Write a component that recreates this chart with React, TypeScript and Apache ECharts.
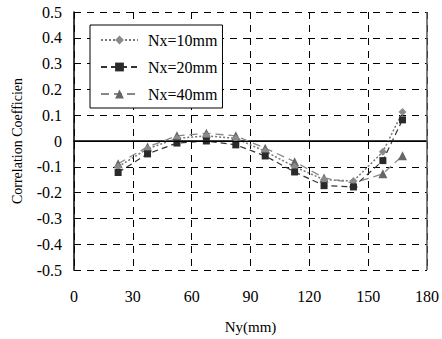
import React, { useEffect, useRef } from "react";
import * as echarts from "echarts";

const xValues = [22.5, 37.5, 52.5, 67.5, 82.5, 97.5, 112.5, 127.5, 142.5, 157.5, 167.5];
const nx10 = [-0.1, -0.03, 0.01, 0.02, 0.01, -0.04, -0.1, -0.15, -0.155, -0.042, 0.112];
const nx20 = [-0.122, -0.05, -0.008, 0.0, -0.015, -0.058, -0.12, -0.173, -0.178, -0.076, 0.082];
const nx40 = [-0.088, -0.023, 0.02, 0.03, 0.02, -0.028, -0.08, -0.143, -0.163, -0.127, -0.057];
const seriesNames = ["Nx=10mm", "Nx=20mm", "Nx=40mm"];

const FONT = "Liberation Serif";

export default function App() {
  const ref = useRef<HTMLDivElement>(null);
  useEffect(() => {
    if (!ref.current) return;
    const chart = echarts.init(ref.current, null, { renderer: "svg" });
    const pair = (ys: number[]) => xValues.map((x, i) => [x, ys[i]]);
    chart.setOption({
      animation: false,
      backgroundColor: "#fff",
      textStyle: { fontFamily: FONT },
      grid: { left: 74, right: 13, top: 12, bottom: 67 },
      legend: {
        orient: "vertical",
        left: 90,
        top: 25,
        padding: [7, 5, 6, 10],
        itemGap: 11,
        itemWidth: 37,
        itemHeight: 11,
        borderColor: "#000",
        borderWidth: 1,
        backgroundColor: "#fff",
        textStyle: { fontFamily: FONT, fontSize: 16, color: "#000", padding: [0, 0, 0, 5] },
        data: seriesNames,
      },
      xAxis: {
        type: "value",
        min: 0,
        max: 180,
        interval: 30,
        name: "Ny(mm)",
        nameLocation: "middle",
        nameGap: 49,
        nameTextStyle: { fontFamily: FONT, fontSize: 15, color: "#000" },
        axisLine: { show: true, lineStyle: { color: "#000", width: 1.5 } },
        axisTick: { show: false },
        axisLabel: { fontFamily: FONT, fontSize: 16, color: "#000", margin: 18 },
        splitLine: { show: true, lineStyle: { color: "#000", type: [7, 6], width: 1 } },
      },
      yAxis: {
        type: "value",
        min: -0.5,
        max: 0.5,
        interval: 0.1,
        name: "Correlation Coefficien",
        nameLocation: "middle",
        nameGap: 50,
        nameTextStyle: { fontFamily: FONT, fontSize: 14, color: "#000" },
        axisLine: { show: true, lineStyle: { color: "#000", width: 1.5 } },
        axisTick: { show: false },
        axisLabel: {
          fontFamily: FONT,
          fontSize: 16,
          color: "#000",
          margin: 12,
          formatter: (v: number) => (Math.abs(v) < 1e-9 ? "0" : v.toFixed(1)),
        },
        splitLine: { show: true, lineStyle: { color: "#000", type: [7, 6], width: 1 } },
      },
      series: [
        {
          name: seriesNames[0],
          type: "line",
          data: pair(nx10),
          symbol: "diamond",
          symbolSize: 8,
          itemStyle: { color: "#8a8a8a" },
          lineStyle: { color: "#777", width: 1.5, type: [2, 2] },
          z: 3,
          markLine: {
            silent: true,
            symbol: "none",
            label: { show: false },
            lineStyle: { color: "#000", type: "solid", width: 1.2 },
            data: [{ yAxis: 0 }],
          },
        },
        {
          name: seriesNames[1],
          type: "line",
          data: pair(nx20),
          symbol: "rect",
          symbolSize: 7,
          itemStyle: { color: "#2a2a2a" },
          lineStyle: { color: "#333", width: 1.2, type: [6, 4] },
          z: 4,
          markLine: {
            silent: true,
            symbol: "none",
            label: { show: false },
            lineStyle: { color: "#555", type: "solid", width: 1.5 },
            data: [{ xAxis: 180 }],
          },
        },
        {
          name: seriesNames[2],
          type: "line",
          data: pair(nx40),
          symbol: "triangle",
          symbolSize: 9,
          itemStyle: { color: "#666" },
          lineStyle: { color: "#888", width: 1.3, type: [8, 5] },
          z: 2,
        },
      ],
    });
    return () => chart.dispose();
  }, []);
  return (
    <div
      ref={ref}
      style={{ position: "absolute", left: 0, top: 0, width: 442, height: 339 }}
    />
  );
}
